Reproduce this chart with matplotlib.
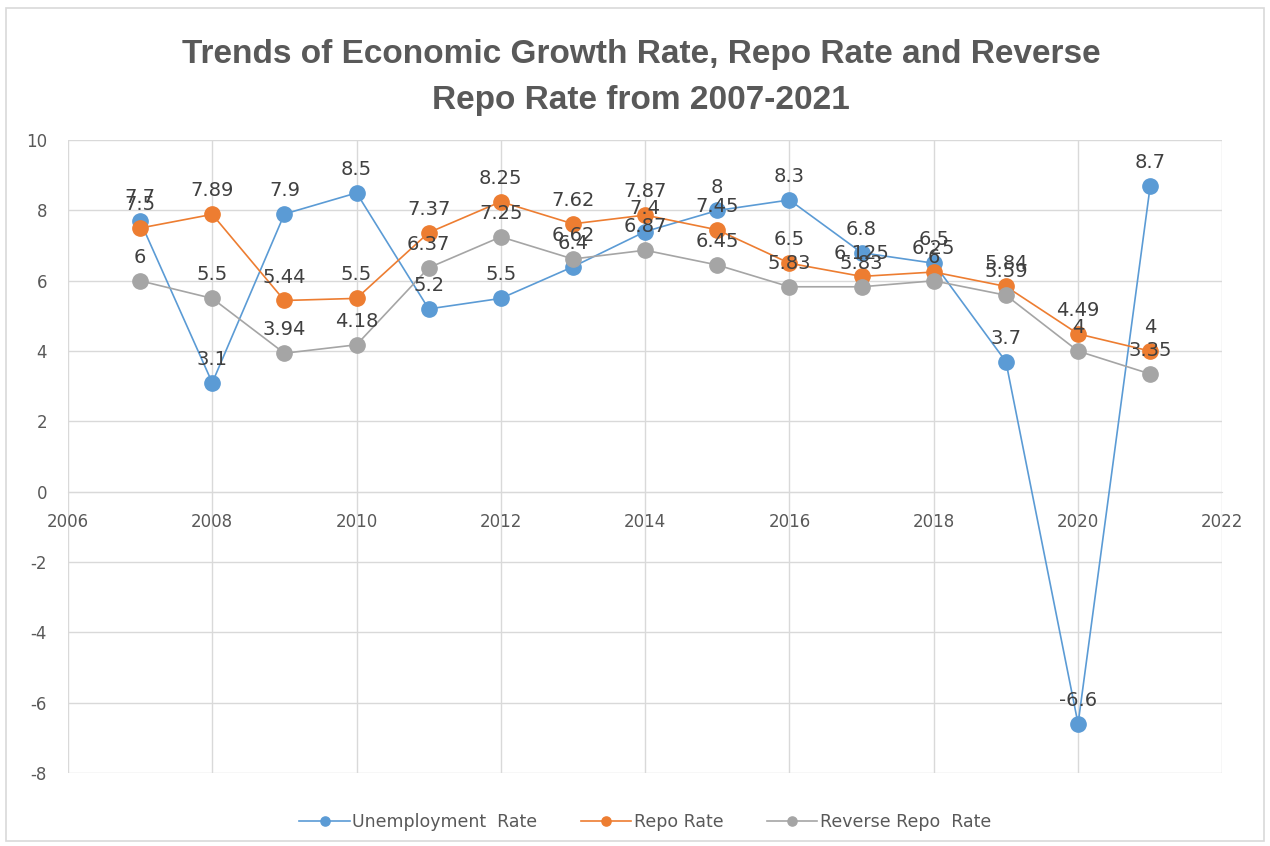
import matplotlib.pyplot as plt
from matplotlib.patches import Rectangle

# Annual figures, 2007-2021
years = list(range(2007, 2022))
unemployment = [7.7, 3.1, 7.9, 8.5, 5.2, 5.5, 6.4, 7.4, 8, 8.3, 6.8, 6.5, 3.7, -6.6, 8.7]
repo = [7.5, 7.89, 5.44, 5.5, 7.37, 8.25, 7.62, 7.87, 7.45, 6.5, 6.125, 6.25, 5.84, 4.49, 4]
reverse_repo = [6, 5.5, 3.94, 4.18, 6.37, 7.25, 6.62, 6.87, 6.45, 5.83, 5.83, 6, 5.59, 4, 3.35]

series = [
    ("Unemployment  Rate", unemployment, "#5B9BD5"),
    ("Repo Rate", repo, "#ED7D31"),
    ("Reverse Repo  Rate", reverse_repo, "#A5A5A5"),
]

plt.rcParams['font.family'] = ['DejaVu Sans']
plt.rcParams['axes.unicode_minus'] = False
text_col = "#595959"

fig = plt.figure(figsize=(12.7, 8.46), dpi=100)
ax = fig.add_axes([0.0535, 0.0863, 0.909, 0.748])

for name, vals, col in series:
    ax.plot(years, vals, color=col, lw=1.2, marker="o", ms=11,
            markeredgecolor=col, label=name, zorder=3)

# value labels above each point
for name, vals, col in series:
    for x, v in zip(years, vals):
        ax.annotate(f"{v:g}", (x, v), xytext=(0, 10), textcoords="offset points",
                    ha="center", va="bottom", fontsize=14, color="#404040", zorder=4)

ax.set_xlim(2006, 2022)
ax.set_ylim(-8, 10)
ax.set_xticks(range(2006, 2023, 2))
ax.set_yticks(range(-8, 11, 2))
ax.grid(True, color="#D9D9D9", lw=1)
ax.set_axisbelow(True)
for s in ["top", "right", "left"]:
    ax.spines[s].set_visible(False)
ax.spines["bottom"].set_position(("data", 0))
ax.spines["bottom"].set_color("#D9D9D9")
ax.tick_params(length=0, labelsize=12, labelcolor=text_col)
ax.tick_params(axis="x", pad=15)
ax.tick_params(axis="y", pad=15)

# two-line title
title_kw = dict(ha="center", va="center", fontsize=24, fontweight="bold",
                color=text_col, family=["Liberation Sans", "DejaVu Sans"])
fig.text(0.505, 1 - 55 / 846, "Trends of Economic Growth Rate, Repo Rate and Reverse", **title_kw)
fig.text(0.505, 1 - 100 / 846, "Repo Rate from 2007-2021", **title_kw)

fig.legend(loc="center", bbox_to_anchor=(0.508, 0.028), ncol=3, frameon=False,
           fontsize=12.5, labelcolor=text_col, handlelength=2.9, columnspacing=2.5,
           handletextpad=0.15, markerscale=0.6)

# light frame around the chart
fig.patches.append(Rectangle((0.005, 0.006), 0.99, 0.985, transform=fig.transFigure,
                             fill=False, edgecolor="#D9D9D9", lw=1.2))

fig.savefig("out.png", dpi=100)
